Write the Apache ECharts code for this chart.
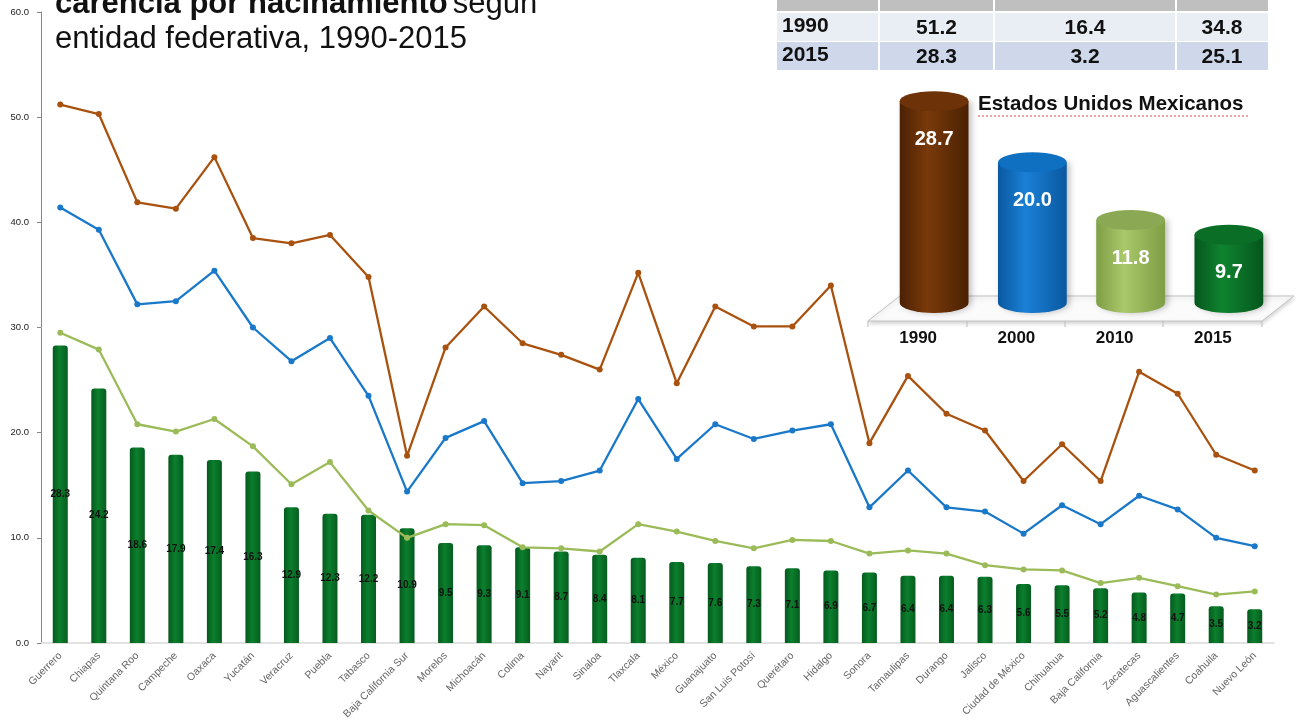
<!DOCTYPE html>
<html>
<head>
<meta charset="utf-8">
<script src="https://cdn.jsdelivr.net/npm/echarts@6/dist/echarts.min.js"></script>
<style>
  html, body { margin: 0; padding: 0; background: #fff; }
  #chart { width: 1298px; height: 728px; }
</style>
</head>
<body>
<div id="chart"></div>
<script>
const estados = ['Guerrero', 'Chiapas', 'Quintana Roo', 'Campeche', 'Oaxaca', 'Yucatán', 'Veracruz', 'Puebla',
  'Tabasco', 'Baja California Sur', 'Morelos', 'Michoacán', 'Colima', 'Nayarit', 'Sinaloa', 'Tlaxcala',
  'México', 'Guanajuato', 'San Luis Potosí', 'Querétaro', 'Hidalgo', 'Sonora', 'Tamaulipas', 'Durango',
  'Jalisco', 'Ciudad de México', 'Chihuahua', 'Baja California', 'Zacatecas', 'Aguascalientes', 'Coahuila', 'Nuevo León'];

const v1990 = [51.2, 50.3, 41.9, 41.3, 46.2, 38.5, 38.0, 38.8, 34.8, 17.8, 28.1, 32.0, 28.5, 27.4, 26.0, 35.2,
  24.7, 32.0, 30.1, 30.1, 34.0, 19.0, 25.4, 21.8, 20.2, 15.4, 18.9, 15.4, 25.8, 23.7, 17.9, 16.4];
const v2000 = [41.4, 39.3, 32.2, 32.5, 35.4, 30.0, 26.8, 29.0, 23.5, 14.4, 19.5, 21.1, 15.2, 15.4, 16.4, 23.2,
  17.5, 20.8, 19.4, 20.2, 20.8, 12.9, 16.4, 12.9, 12.5, 10.4, 13.1, 11.3, 14.0, 12.7, 10.0, 9.2];
const v2010 = [29.5, 27.9, 20.8, 20.1, 21.3, 18.7, 15.1, 17.2, 12.6, 10.0, 11.3, 11.2, 9.1, 9.0, 8.7, 11.3,
  10.6, 9.7, 9.0, 9.8, 9.7, 8.5, 8.8, 8.5, 7.4, 7.0, 6.9, 5.7, 6.2, 5.4, 4.6, 4.9];
const v2015 = [28.3, 24.2, 18.6, 17.9, 17.4, 16.3, 12.9, 12.3, 12.2, 10.9, 9.5, 9.3, 9.1, 8.7, 8.4, 8.1,
  7.7, 7.6, 7.3, 7.1, 6.9, 6.7, 6.4, 6.4, 6.3, 5.6, 5.5, 5.2, 4.8, 4.7, 3.5, 3.2];

// recuadro nacional
const anios = ['1990', '2000', '2010', '2015'];
const nacional = [28.7, 20.0, 11.8, 9.7];

// tabla superior
const tablaAnios = ['1990', '2015'];
const tablaValores = [[51.2, 16.4, 34.8], [28.3, 3.2, 25.1]];

const FONT = '"Liberation Sans", Arial, sans-serif';

const cylColors = [
  { edge: '#4a2103', mid: '#7a3a0a', top: '#6e3208' },
  { edge: '#0a58a0', mid: '#1a80d6', top: '#0f6fc0' },
  { edge: '#7f9e45', mid: '#a9c86a', top: '#8ba954' },
  { edge: '#05561c', mid: '#0f842f', top: '#0a6e26' }
];

// tabla como elementos gráficos
const colX = [777, 879, 994, 1176, 1268];
const rowY = [13, 42, 71];
const tabla = [];
tabla.push({ type: 'rect', shape: { x: colX[0], y: -5, width: colX[4] - colX[0], height: 16 }, style: { fill: '#bfbfbf' } });
tablaAnios.forEach((a, r) => {
  tabla.push({ type: 'rect', shape: { x: colX[0], y: rowY[r], width: colX[4] - colX[0], height: rowY[r + 1] - rowY[r] - 1 },
    style: { fill: r === 0 ? '#e9edf4' : '#cfd8ea' } });
  tabla.push({ type: 'text', x: colX[0] + 5, y: (rowY[r] + rowY[r + 1]) / 2 - 1,
    style: { text: a, font: 'bold 21px ' + FONT, fill: '#111', verticalAlign: 'middle', align: 'left' } });
  tablaValores[r].forEach((v, c) => {
    tabla.push({ type: 'text', x: (colX[c + 1] + colX[c + 2]) / 2, y: (rowY[r] + rowY[r + 1]) / 2 + 1,
      style: { text: v.toFixed(1), font: 'bold 21px ' + FONT, fill: '#111', verticalAlign: 'middle', align: 'center' } });
  });
});
for (let c = 1; c < 4; c++) {
  tabla.push({ type: 'line', shape: { x1: colX[c], y1: -5, x2: colX[c], y2: rowY[2] }, style: { stroke: '#fff', lineWidth: 2 } });
}

// piso del recuadro 3D
const piso = [
  {
    type: 'polygon',
    shape: { points: [[868, 321], [1262, 321], [1294, 296], [900, 296]] },
    style: { fill: '#fbfbfb', stroke: '#c4c4c4', lineWidth: 1, shadowBlur: 4, shadowColor: 'rgba(0,0,0,0.18)', shadowOffsetY: 2 },
    z: 0
  }
];
[868, 967, 1065, 1163, 1262].forEach(x => {
  piso.push({ type: 'line', shape: { x1: x, y1: 321, x2: x, y2: 327 }, style: { stroke: '#bdbdbd', lineWidth: 1 }, z: 0 });
});

const chart = echarts.init(document.getElementById('chart'));

const option = {
  backgroundColor: '#fff',
  animation: false,
  textStyle: { fontFamily: FONT },
  title: {
    left: 50,
    top: -18,
    text: '{b|carencia por hacinamiento} {n|según}\n{n|entidad federativa, 1990-2015}',
    textStyle: {
      fontWeight: 'normal',
      rich: {
        b: { fontSize: 31, fontWeight: 'bold', color: '#111', lineHeight: 35, fontFamily: FONT },
        n: { fontSize: 31, fontWeight: 'normal', color: '#111', lineHeight: 35, fontFamily: FONT }
      }
    }
  },
  grid: [
    { left: 41, right: 24, top: 12, bottom: 85 },
    { left: 885, right: 20, top: 92, bottom: 425 }
  ],
  xAxis: [
    {
      type: 'category',
      data: estados,
      gridIndex: 0,
      axisLine: { lineStyle: { color: '#d9d9d9', width: 1.5 } },
      axisTick: { lineStyle: { color: '#d9d9d9' }, length: 5 },
      axisLabel: { rotate: 45, fontSize: 10.5, color: '#666', margin: 11, interval: 0 }
    },
    {
      type: 'category',
      data: anios,
      gridIndex: 1,
      axisLine: { show: false },
      axisTick: { show: false },
      axisLabel: { fontSize: 17, fontWeight: 'bold', color: '#111', margin: 27, padding: [0, 32, 0, 0] }
    }
  ],
  yAxis: [
    {
      type: 'value',
      gridIndex: 0,
      min: 0,
      max: 60,
      interval: 10,
      splitLine: { show: false },
      axisLine: { show: true, lineStyle: { color: '#888' } },
      axisTick: { show: true, length: 4, lineStyle: { color: '#888' } },
      axisLabel: { fontSize: 9.5, color: '#222', formatter: v => v.toFixed(1), margin: 12 }
    },
    {
      type: 'value',
      gridIndex: 1,
      min: 0,
      max: 30,
      show: false
    }
  ],
  graphic: [
    ...tabla,
    ...piso,
    {
      type: 'text',
      x: 978,
      y: 104,
      style: { text: 'Estados Unidos Mexicanos', font: 'bold 20.5px ' + FONT, fill: '#111', verticalAlign: 'middle' },
      z: 10
    },
    {
      type: 'line',
      shape: { x1: 978, y1: 116, x2: 1250, y2: 116 },
      style: { stroke: '#e24a4a', lineWidth: 1, lineDash: [2, 2] },
      z: 10
    }
  ],
  series: [
    {
      name: '2015',
      type: 'bar',
      data: v2015,
      barWidth: 15,
      itemStyle: {
        color: new echarts.graphic.LinearGradient(0, 0, 1, 0, [
          { offset: 0, color: '#055a1d' },
          { offset: 0.45, color: '#0b7f2d' },
          { offset: 1, color: '#065d1f' }
        ]),
        borderRadius: [3, 3, 0, 0]
      },
      label: {
        show: true,
        position: 'inside',
        color: '#111',
        fontSize: 10,
        fontWeight: 'bold',
        formatter: p => p.value.toFixed(1)
      },
      z: 2
    },
    {
      name: '1990',
      type: 'line',
      data: v1990,
      color: '#a9520f',
      lineStyle: { width: 2.3 },
      symbol: 'circle',
      symbolSize: 6,
      z: 3
    },
    {
      name: '2000',
      type: 'line',
      data: v2000,
      color: '#1a78c9',
      lineStyle: { width: 2.3 },
      symbol: 'circle',
      symbolSize: 6,
      z: 3
    },
    {
      name: '2010',
      type: 'line',
      data: v2010,
      color: '#9bbb59',
      lineStyle: { width: 2.3 },
      symbol: 'circle',
      symbolSize: 6,
      z: 3
    },
    {
      name: 'nacional',
      type: 'custom',
      xAxisIndex: 1,
      yAxisIndex: 1,
      data: nacional.map((v, i) => [i, v]),
      z: 5,
      renderItem: (params, api) => {
        const v = api.value(1);
        const top = api.coord([api.value(0), v]);
        const base = api.coord([api.value(0), 0]);
        const w = api.size([1, 0])[0] * 0.7;
        const rx = w / 2, ry = 10;
        const x0 = top[0] - rx, x1 = top[0] + rx;
        const c = cylColors[params.dataIndex];
        const body = `M${x0},${top[1]} L${x0},${base[1]} A${rx},${ry} 0 0 0 ${x1},${base[1]} L${x1},${top[1]} Z`;
        const cap = `M${x0},${top[1]} A${rx},${ry} 0 1 0 ${x1},${top[1]} A${rx},${ry} 0 1 0 ${x0},${top[1]} Z`;
        return {
          type: 'group',
          children: [
            {
              type: 'path',
              shape: { pathData: body },
              style: {
                fill: new echarts.graphic.LinearGradient(0, 0, 1, 0, [
                  { offset: 0, color: c.edge },
                  { offset: 0.4, color: c.mid },
                  { offset: 1, color: c.edge }
                ]),
                shadowBlur: 6, shadowColor: 'rgba(0,0,0,0.25)', shadowOffsetX: 3
              }
            },
            { type: 'path', shape: { pathData: cap }, style: { fill: c.top } },
            {
              type: 'text',
              x: top[0],
              y: top[1] + 38,
              style: { text: v.toFixed(1), font: 'bold 20px ' + FONT, fill: '#fff', align: 'center', verticalAlign: 'middle' }
            }
          ]
        };
      }
    }
  ]
};

chart.setOption(option);
</script>
</body>
</html>
